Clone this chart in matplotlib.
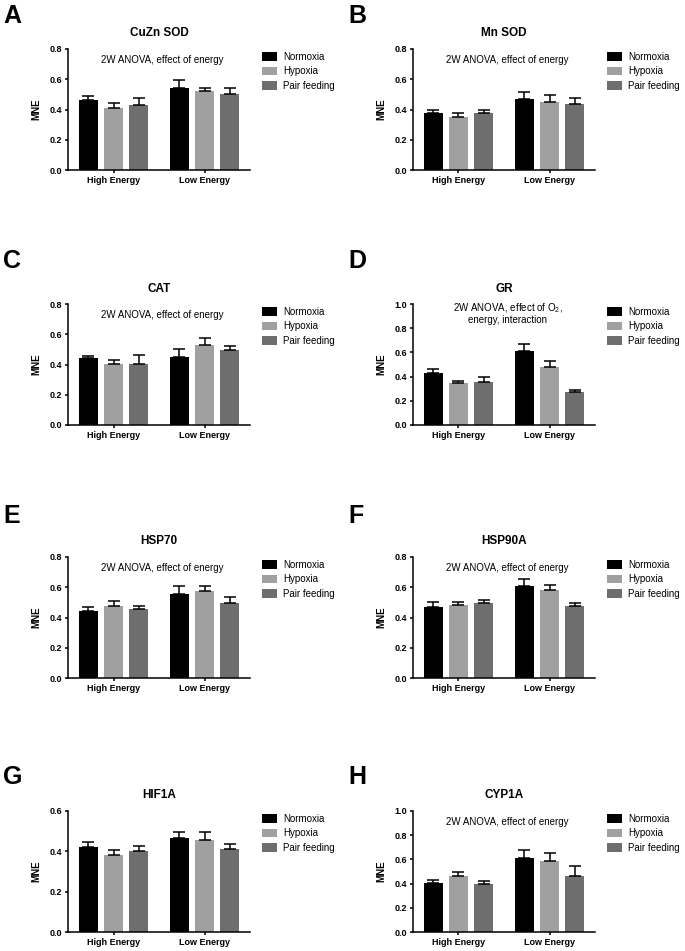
import matplotlib
matplotlib.use("Agg")
import matplotlib.pyplot as plt
import numpy as np

plt.rcParams['font.family'] = ['Liberation Sans', 'DejaVu Sans']
plt.rcParams['mathtext.fontset'] = 'custom'
plt.rcParams['mathtext.rm'] = 'Liberation Sans'
plt.rcParams['mathtext.it'] = 'Liberation Sans:italic'

groups = ["High Energy", "Low Energy"]
series = ["Normoxia", "Hypoxia", "Pair feeding"]
colors = ["#000000", "#a0a0a0", "#6e6e6e"]

panels = ["A", "B", "C", "D", "E", "F", "G", "H"]
titles = ["CuZn SOD", "Mn SOD", "CAT", "GR", "HSP70", "HSP90A", "HIF1A", "CYP1A"]
notes = ["2W ANOVA, effect of energy", "2W ANOVA, effect of energy",
         "2W ANOVA, effect of energy",
         "2W ANOVA, effect of O$_2$,\nenergy, interaction",
         "2W ANOVA, effect of energy", "2W ANOVA, effect of energy",
         "", "2W ANOVA, effect of energy"]
ymax = [0.8, 0.8, 0.8, 1.0, 0.8, 0.8, 0.6, 1.0]

# means[panel][series] = [High, Low]
means = {
    "A": [[0.46, 0.542], [0.41, 0.522], [0.427, 0.50]],
    "B": [[0.378, 0.471], [0.351, 0.451], [0.378, 0.438]],
    "C": [[0.44, 0.449], [0.404, 0.527], [0.404, 0.493]],
    "D": [[0.426, 0.61], [0.343, 0.478], [0.354, 0.272]],
    "E": [[0.445, 0.558], [0.478, 0.575], [0.454, 0.494]],
    "F": [[0.469, 0.606], [0.485, 0.580], [0.496, 0.474]],
    "G": [[0.422, 0.465], [0.384, 0.458], [0.402, 0.41]],
    "H": [[0.409, 0.615], [0.459, 0.588], [0.398, 0.464]],
}
sems = {
    "A": [[0.03, 0.054], [0.035, 0.023], [0.051, 0.04]],
    "B": [[0.022, 0.045], [0.027, 0.047], [0.022, 0.038]],
    "C": [[0.018, 0.051], [0.023, 0.045], [0.06, 0.027]],
    "D": [[0.033, 0.063], [0.02, 0.055], [0.042, 0.016]],
    "E": [[0.022, 0.048], [0.033, 0.036], [0.02, 0.039]],
    "F": [[0.031, 0.051], [0.02, 0.037], [0.022, 0.022]],
    "G": [[0.026, 0.031], [0.022, 0.038], [0.025, 0.025]],
    "H": [[0.022, 0.064], [0.033, 0.069], [0.022, 0.08]],
}

W, H = 685, 951
fig = plt.figure(figsize=(W / 100, H / 100), dpi=100)

col_left = [68, 413]
row_top = [49, 304, 557, 811]
ax_w, ax_h = 182, 121
letter_top = [4, 249, 504, 765]

for i, p in enumerate(panels):
    r, c = divmod(i, 2)
    x0 = col_left[c]
    y0 = row_top[r]
    ax = fig.add_axes([x0 / W, 1 - (y0 + ax_h) / H, ax_w / W, ax_h / H])
    centers = np.arange(len(groups))
    offs = [-0.275, 0.0, 0.275]
    for k, s in enumerate(series):
        ax.bar(centers + offs[k], means[p][k], width=0.2, color=colors[k],
               label=s, zorder=2)
        ax.errorbar(centers + offs[k], means[p][k],
                    yerr=[np.zeros(2), sems[p][k]], fmt='none', ecolor='black',
                    elinewidth=1.1, capsize=4.2, capthick=1.1, zorder=3)
    ax.set_xlim(-0.5, 1.5)
    ax.set_ylim(0, ymax[i])
    ticks = np.arange(0, ymax[i] + 0.001, 0.2)
    ax.set_yticks(ticks)
    ax.set_yticklabels([f"{v:.1f}" for v in ticks], fontsize=6.5, fontweight='bold')
    ax.set_xticks(centers)
    ax.set_xticklabels(groups, fontsize=6.5, fontweight='bold')
    for sp in ['top', 'right']:
        ax.spines[sp].set_visible(False)
    for sp in ['left', 'bottom']:
        ax.spines[sp].set_linewidth(1.1)
    ax.tick_params(axis='both', width=1.1, length=2.5, pad=1.5)
    ax.set_ylabel("MNE", fontsize=7, fontweight='bold', labelpad=6)
    ax.set_title(titles[i], fontsize=8.5, fontweight='bold', pad=9)
    if notes[i]:
        if "\n" in notes[i]:
            ax.text(0.52, 1.025, notes[i], transform=ax.transAxes, ha='center',
                    va='top', fontsize=7, linespacing=1.1)
        else:
            ax.text(0.52, 0.91, notes[i], transform=ax.transAxes, ha='center',
                    va='center', fontsize=7)
    ax.legend(loc='upper left', bbox_to_anchor=(1.066, 0.975), frameon=False,
              borderaxespad=0, borderpad=0, fontsize=7, handlelength=1.55,
              handleheight=1.0, handletextpad=0.6, labelspacing=0.45)
    fig.text((x0 - 65) / W, 1 - letter_top[r] / H, p, fontsize=18,
             fontweight='bold', ha='left', va='top')

fig.savefig("out.png", dpi=100)
